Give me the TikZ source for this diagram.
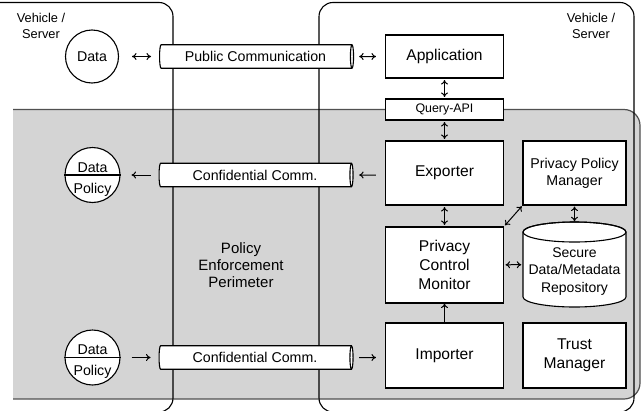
\documentclass[tikz,border=0pt]{standalone}
\usepackage{fontspec}
\setmainfont{Liberation Sans}
\usetikzlibrary{arrows.meta,shapes.geometric,calc}
\definecolor{perim}{RGB}{212,212,212}
\definecolor{perimline}{RGB}{80,80,80}
\begin{document}
\begin{tikzpicture}[x=1pt,y=-1pt,
  >={To[length=4.5pt,width=7pt]},
  bigf/.style={font=\fontsize{15.6}{19}\selectfont},
  midf/.style={font=\fontsize{14.2}{17}\selectfont},
  box/.style={draw=black,fill=white,line width=1.1pt,inner sep=0pt,align=center,bigf},
  circ/.style={circle,draw=black,fill=white,line width=1.1pt,inner sep=0pt,midf},
  pipe/.style={cylinder,draw=black,fill=white,line width=1.1pt,inner sep=0pt,
    minimum height=194pt,minimum width=23.5pt,aspect=0.3,midf},
  arr/.style={line width=1pt},
  vbox/.style={draw=black,line width=1.1pt,rounded corners=14pt},
  lbl/.style={align=center,font=\fontsize{12.8}{16}\selectfont}
]
\useasboundingbox (0,0) rectangle (643,410);
\clip (0,0) rectangle (643,410);
\fill[white] (0,0) rectangle (643,410);
% policy enforcement perimeter
\fill[perim,rounded corners=16pt] (13,109.5) -- (640,109.5) -- (640,399) -- (13,399) -- cycle;
\fill[perim] (13,109.5) rectangle (40,399);
\draw[perimline,line width=1.2pt,rounded corners=16pt] (13,109.5) -- (640,109.5) -- (640,399) -- (13,399);
% vehicle / server boxes
\draw[vbox] (-30,2.5) rectangle (173,412);
\draw[vbox] (319,2.5) rectangle (634,412);
\node[lbl] (vs1) at (41,26) {Vehicle /\\Server};
\node[lbl] (vs2) at (591,26) {Vehicle /\\Server};
\node[align=center,font=\fontsize{15}{16.8}\selectfont] (pep) at (241,265) {Policy\\Enforcement\\Perimeter};
% boxes
\node[box,minimum width=118pt,minimum height=43pt] (app) at (444.5,56.5) {Application};
\node[box,minimum width=118pt,minimum height=21pt,font=\fontsize{12.4}{14}\selectfont] (qapi) at (444.5,109.5) {Query-API};
\node[box,minimum width=118pt,minimum height=64pt] (exp) at (444.5,173) {Exporter};
\node[box,minimum width=103pt,minimum height=64pt,midf] (ppm) at (574.5,173) {Privacy Policy\\Manager};
\node[box,minimum width=118pt,minimum height=76pt] (pcm) at (444.5,265) {Privacy\\Control\\Monitor};
\node[box,minimum width=118pt,minimum height=65pt] (imp) at (444.5,355.5) {Importer};
\node[box,minimum width=103pt,minimum height=65pt] (trust) at (574.5,355.5) {Trust\\Manager};
% repository (vertical cylinder)
\node[minimum width=103pt,minimum height=85pt,inner sep=0pt] (rep) at (574.5,264.5) {};
\filldraw[fill=white,line width=1.1pt] (523,232) -- (523,297)
  arc[start angle=180,end angle=360,x radius=51.5pt,y radius=10pt] -- (626,232)
  arc[start angle=0,end angle=180,x radius=51.5pt,y radius=10pt] -- cycle;
\draw[line width=1.1pt] (574.5,232) ellipse[x radius=51.5pt,y radius=10pt];
\node[align=center,font=\fontsize{14}{17.2}\selectfont] (reptxt) at (574.5,271.5) {Secure\\Data/Metadata\\Repository};
% pipes
\node[pipe] (pub) at (255.5,56.5) {Public Communication};
\node[pipe] (conf1) at (255,175) {Confidential Comm.};
\node[pipe] (conf2) at (255,357.5) {Confidential Comm.};
% circles
\node[circ,minimum size=53pt] (data) at (92,56.5) {Data};
\node[circ,minimum size=55pt] (dp1) at (92.5,175) {};
\node[circ,minimum size=55pt] (dp2) at (92.5,357.5) {};
\draw[line width=1.1pt] (dp1.west) -- (dp1.east);
\draw[line width=1.1pt] (dp2.west) -- (dp2.east);
\node[midf,anchor=base] (dp1a) at ([yshift=3pt]dp1.center) {Data};
\node[midf,anchor=base] (dp1b) at ([yshift=-18pt]dp1.center) {Policy};
\node[midf,anchor=base] (dp2a) at ([yshift=3pt]dp2.center) {Data};
\node[midf,anchor=base] (dp2b) at ([yshift=-18pt]dp2.center) {Policy};
% connectors
\draw[arr,<->,shorten <=13pt,shorten >=8pt] (data) -- (pub);
\draw[arr,<->,shorten <=5pt,shorten >=9pt] (pub) -- (app);
\draw[arr,<->,shorten <=1.5pt,shorten >=1.5pt] (app) -- (qapi);
\draw[arr,<->,shorten <=1.5pt,shorten >=1.5pt] (qapi) -- (exp);
\draw[arr,<->,shorten <=1.5pt,shorten >=1.5pt] (exp) -- (pcm);
\draw[arr,<->,shorten <=1.5pt,shorten >=1pt] (pcm.north east) -- (ppm.south west);
\draw[arr,<->,shorten <=1pt,shorten >=0.5pt] (ppm) -- (rep);
\draw[arr,<->,shorten <=1.5pt,shorten >=1.5pt] (pcm) -- (rep);
\draw[arr,->] (imp) -- (pcm);
\draw[arr,<-,shorten <=5.5pt,shorten >=9pt] (conf1) -- (exp.west |- conf1);
\draw[arr,->,shorten <=8pt,shorten >=11pt] (conf1) -- (dp1);
\draw[arr,->,shorten <=11pt,shorten >=8pt] (dp2) -- (conf2);
\draw[arr,->,shorten <=5.5pt,shorten >=9pt] (conf2) -- (imp.west |- conf2);
\end{tikzpicture}
\end{document}
